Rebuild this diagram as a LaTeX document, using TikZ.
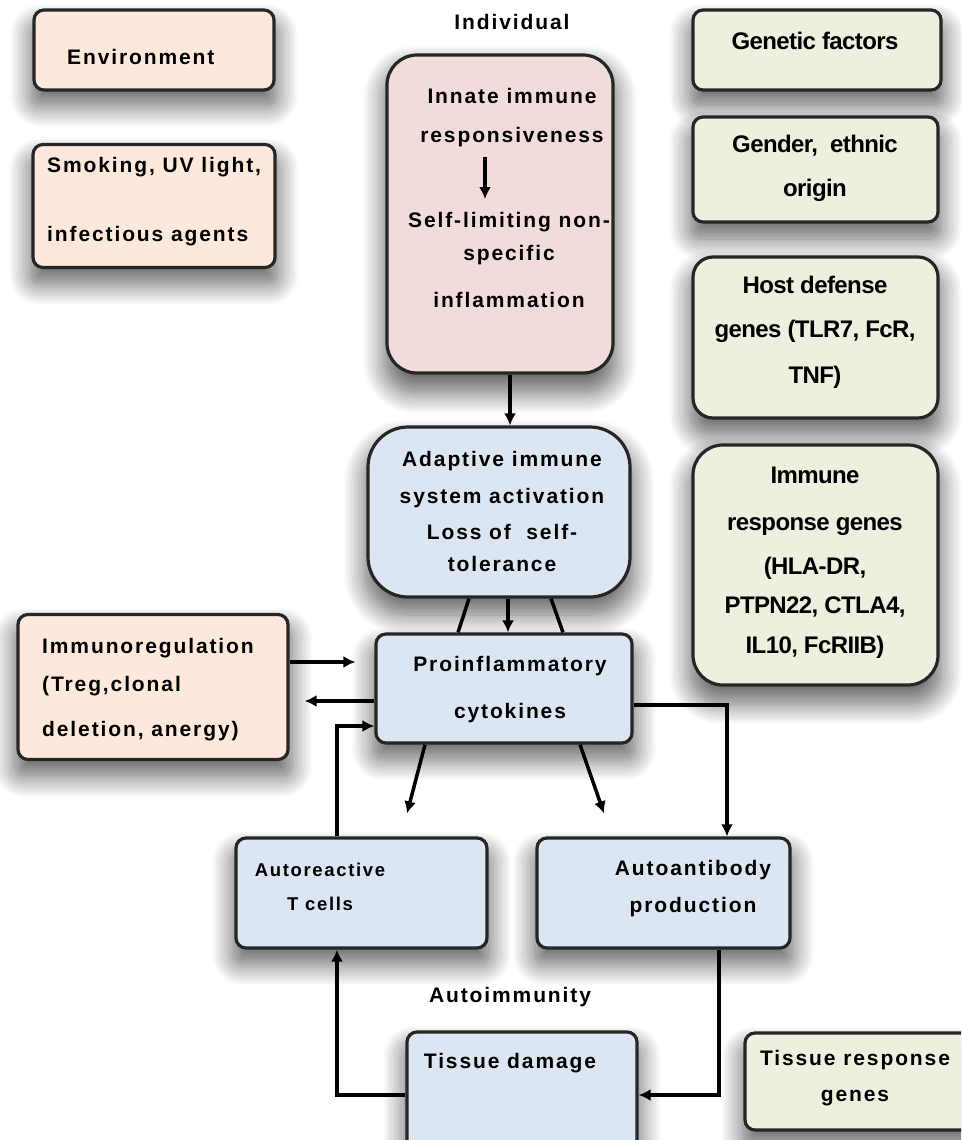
\documentclass[tikz,border=0pt]{standalone}
\usepackage{fontspec}
\setmainfont{Liberation Sans}
\newfontfamily\loosefont[LetterSpace=9]{Liberation Sans}
\newfontfamily\tightfont[LetterSpace=-2.5]{Liberation Sans}
\usetikzlibrary{arrows.meta,shadows.blur}

\definecolor{peachC}{HTML}{FCE9DB}
\definecolor{pinkC}{HTML}{F2DCDB}
\definecolor{blueC}{HTML}{DCE6F2}
\definecolor{greenC}{HTML}{EBF1DE}
\definecolor{edgeC}{HTML}{262626}

\tikzset{
  box/.style={draw=edgeC, line width=3.2pt, inner sep=0pt, rounded corners=10pt,
    blur shadow={shadow xshift=0pt, shadow yshift=-15pt, shadow scale=1.03, shadow blur radius=20pt, shadow blur steps=16, shadow opacity=60}},
  envbox/.style={box, fill=peachC},
  indbox/.style={box, fill=pinkC},
  cellbox/.style={box, fill=blueC},
  genbox/.style={box, fill=greenC},
  txt/.style={font=\loosefont\bfseries\fontsize{21}{24}\selectfont, inner sep=0pt, align=center},
  stxt/.style={font=\loosefont\bfseries\fontsize{18.5}{22}\selectfont, inner sep=0pt, align=center},
  gtxt/.style={font=\tightfont\bfseries\fontsize{24}{27}\selectfont, inner sep=0pt, align=center},
  arr/.style={line width=3.5pt, -{Latex[length=12pt,width=12pt]}},
  link/.style={line width=3.5pt},
}

\begin{document}
\begin{tikzpicture}[x=1pt,y=-1pt]
\useasboundingbox (0,0) rectangle (961,1140);
\clip (0,0) rectangle (961,1140);

% environment
\node[envbox, minimum width=240pt, minimum height=80pt] (env) at (154,50) {};
\node[envbox, minimum width=242pt, minimum height=123pt] (smoke) at (154,206) {};
\node[envbox, minimum width=270pt, minimum height=145pt] (immreg) at (153,687) {};

% individual
\node[indbox, rounded corners=30pt, minimum width=226pt, minimum height=318pt] (innate) at (500,214) {};
\node[cellbox, rounded corners=40pt, minimum width=262pt, minimum height=170pt] (adapt) at (499,512) {};
\node[cellbox, minimum width=256pt, minimum height=109pt] (proinf) at (504,688.5) {};
\node[cellbox, minimum width=251pt, minimum height=110pt] (autoT) at (361.5,893) {};
\node[cellbox, minimum width=253pt, minimum height=110pt] (autoAb) at (663.5,893) {};
\node[cellbox, minimum width=230pt, minimum height=118pt] (tissue) at (522,1091) {};

% genetic factors
\node[genbox, minimum width=248pt, minimum height=80pt] (gen) at (817,50) {};
\node[genbox, minimum width=245pt, minimum height=105pt] (gender) at (815.5,169.5) {};
\node[genbox, rounded corners=20pt, minimum width=245pt, minimum height=161pt] (host) at (815.5,337.5) {};
\node[genbox, rounded corners=30pt, minimum width=245pt, minimum height=240pt] (immune) at (815.5,565) {};
\node[genbox, minimum width=230pt, minimum height=97pt] (tresp) at (860,1081.5) {};

% texts
\node[txt, anchor=west] (envT) at (67,57) {Environment};
\node[txt, anchor=west, align=left] (smokeT) at (47,202) {Smoking, UV light,\\[45pt]infectious agents};
\node[txt] (indT) at (512,22) {Individual};
\node[txt] (innTop) at (512,118) {Innate immune\\[15pt]responsiveness};
\node[txt] (innBot) at (509,260) {Self-limiting non-\\[9pt]specific\\[23pt]inflammation};
\node[txt] (adaptT) at (502,511) {Adaptive immune\\[13pt]system activation\\[12pt]Loss of\ \ self-\\[8pt]tolerance};
\node[txt] (proinfT) at (510,690) {Proinflammatory\\[23pt]cytokines};
\node[txt, anchor=west, align=left] (immregT) at (42,690) {Immunoregulation\\[14pt](Treg,clonal\\[21pt]deletion, anergy)};
\node[stxt] (autoTT) at (320,887) {Autoreactive\\[12pt]T cells};
\node[txt] (autoAbT) at (693,889) {Autoantibody\\[13pt]production};
\node[txt] (autoimT) at (510,997) {Autoimmunity};
\node[txt] (tissueT) at (510,1063) {Tissue damage};
\node[txt] (trespT) at (855,1078) {Tissue response\\[12pt]genes};

\node[gtxt] (genT) at (815,41) {Genetic factors};
\node[gtxt] (genderT) at (815,168) {Gender,\ \ ethnic\\[17pt]origin};
\node[gtxt] (hostT) at (815,332) {Host defense\\[17pt]genes (TLR7, FcR,\\[19pt]TNF)};
\node[gtxt] (immuneT) at (815,563) {Immune\\[20pt]response genes\\[17pt](HLA-DR,\\[12pt]PTPN22, CTLA4,\\[13pt]IL10, FcRIIB)};

% connectors
\draw[arr, shorten <=10pt, shorten >=13pt] ([xshift=-27pt]innTop.south) -- ([xshift=-27pt]innTop.south |- innBot.north);
\draw[arr] ([xshift=10pt]innate.south) -- ([xshift=10pt]innate.south |- adapt.north);
\draw[link] ([xshift=-30pt]adapt.south) -- ([xshift=-46pt]proinf.north);
\draw[arr] ([xshift=9pt]adapt.south) -- ([xshift=4pt]proinf.north);
\draw[link] ([xshift=52pt]adapt.south) -- ([xshift=59pt]proinf.north);
\draw[arr, shorten >=19pt] ([yshift=25pt]immreg.east) -- ([yshift=25pt]immreg.east -| proinf.west);
\draw[arr, shorten >=15pt] ([yshift=-12.5pt]proinf.west) -- ([yshift=-12.5pt]proinf.west -| immreg.east);
\draw[arr] ([xshift=-24.5pt]autoT.north) |- ([yshift=-37.5pt]proinf.west);
\draw[arr] ([xshift=-79pt]proinf.south) -- ([xshift=45.5pt,yshift=23pt]autoT.north);
\draw[arr] ([xshift=76pt]proinf.south) -- ([xshift=-59.5pt,yshift=23pt]autoAb.north);
\draw[arr] ([yshift=-16.5pt]proinf.east) -| ([xshift=63.5pt]autoAb.north);
\draw[arr] ([yshift=-4pt]tissue.west) -| ([xshift=-24.5pt]autoT.south);
\draw[arr] ([xshift=55.5pt]autoAb.south) |- ([yshift=-4pt]tissue.east);
\end{tikzpicture}
\end{document}
